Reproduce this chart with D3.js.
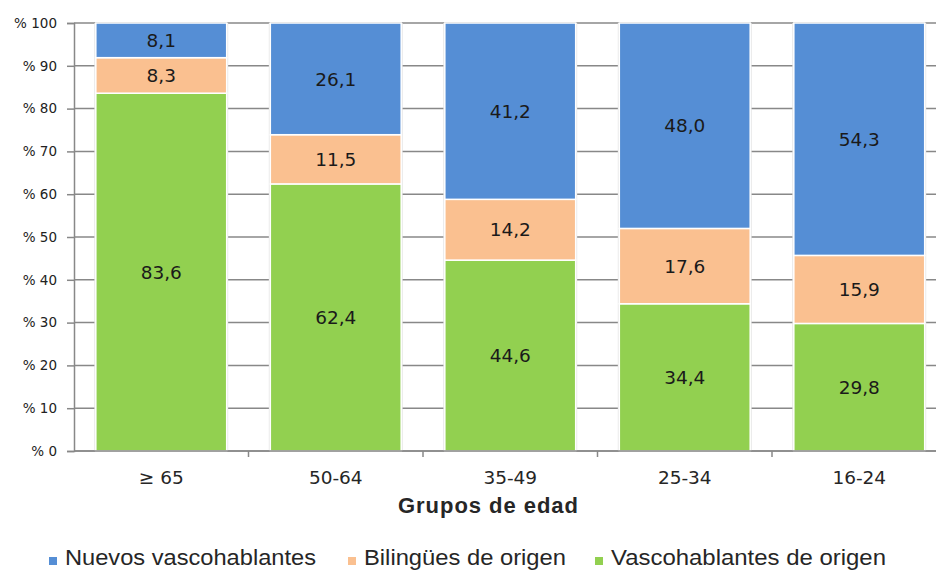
<!DOCTYPE html>
<html>
<head>
<meta charset="utf-8">
<script src="https://cdn.jsdelivr.net/npm/d3@7"></script>
<style>
  body { margin: 0; background: #fff; }
  svg { display: block; overflow: hidden; }
</style>
</head>
<body>
<svg id="chart" width="936" height="570"></svg>
<script>
// Age groups and shares (%) of each language profile
var groups = ["\u2265 65", "50-64", "35-49", "25-34", "16-24"];
var vascohablantes = [83.6, 62.4, 44.6, 34.4, 29.8];
var bilingues = [8.3, 11.5, 14.2, 17.6, 15.9];
var nuevos = [8.1, 26.1, 41.2, 48.0, 54.3];
var yTicks = [0, 10, 20, 30, 40, 50, 60, 70, 80, 90, 100];

var seriesNames = ["Vascohablantes de origen", "Bilingües de origen", "Nuevos vascohablantes"];
var seriesColors = ["#92d050", "#fac090", "#558ed5"];

var rows = groups.map(function(g, i) {
    return { group: g, v: vascohablantes[i], b: bilingues[i], n: nuevos[i] };
});

var svg = d3.select("#chart");

// plot area runs a bit past the right edge, like the original
var x = d3.scaleBand()
    .domain(groups)
    .range([74, 946.5])
    .paddingInner(0.25)
    .paddingOuter(0.125);

var y = d3.scaleLinear()
    .domain([0, 100])
    .range([451, 23]);

// horizontal gridlines
svg.append("g")
    .selectAll("line")
    .data(yTicks)
    .join("line")
    .attr("x1", 74)
    .attr("x2", 946)
    .attr("y1", function(d) { return y(d); })
    .attr("y2", function(d) { return y(d); })
    .attr("stroke", "#888")
    .attr("stroke-width", 1.5);

// y axis
var yAxis = svg.append("g")
    .attr("transform", "translate(74,0)")
    .call(d3.axisLeft(y).tickValues(yTicks).tickSize(7).tickPadding(10)
        .tickFormat(function(d) { return "% " + d; }));
yAxis.select(".domain").attr("stroke", "#888").attr("stroke-width", 1.5);
yAxis.selectAll(".tick line").attr("stroke", "#888").attr("stroke-width", 1.5);
yAxis.selectAll(".tick text")
    .attr("font-family", "DejaVu Sans, sans-serif")
    .attr("font-size", 13.5)
    .attr("fill", "#222");

// stacked bars
var stack = d3.stack().keys(["v", "b", "n"]);
var layers = stack(rows);

// faint shadow round each column
svg.append("g")
    .selectAll("rect")
    .data(rows)
    .join("rect")
    .attr("x", function(d) { return x(d.group) - 1.5; })
    .attr("width", x.bandwidth() + 3)
    .attr("y", y(100))
    .attr("height", y(0) - y(100))
    .attr("fill", "#e4e4e4");

var layerG = svg.append("g")
    .selectAll("g")
    .data(layers)
    .join("g")
    .attr("fill", function(d, i) { return seriesColors[i]; });

layerG.selectAll("rect")
    .data(function(d) { return d; })
    .join("rect")
    .attr("x", function(d) { return x(d.data.group); })
    .attr("width", x.bandwidth())
    .attr("y", function(d) { return y(d[1]); })
    .attr("height", function(d) { return y(d[0]) - y(d[1]); })
    .attr("stroke", "#fff")
    .attr("stroke-width", 1.5);

// value labels
layerG.selectAll("text")
    .data(function(d) { return d; })
    .join("text")
    .attr("x", function(d) { return x(d.data.group) + x.bandwidth() / 2; })
    .attr("y", function(d) { return y((d[0] + d[1]) / 2); })
    .attr("dy", "0.36em")
    .attr("text-anchor", "middle")
    .attr("font-family", "DejaVu Sans, sans-serif")
    .attr("font-size", 18.5)
    .attr("fill", "#1a1a1a")
    .text(function(d) { return d3.format(".1f")(d[1] - d[0]).replace(".", ","); });

// x axis line and ticks at group boundaries
svg.append("line")
    .attr("x1", 74).attr("x2", 946)
    .attr("y1", y(0)).attr("y2", y(0))
    .attr("stroke", "#888").attr("stroke-width", 1.5);

var bounds = groups.map(function(g) { return x(g) - x.step() * x.paddingInner() / 2 + x.step(); });
svg.append("g")
    .selectAll("line")
    .data(bounds)
    .join("line")
    .attr("x1", function(d) { return d; })
    .attr("x2", function(d) { return d; })
    .attr("y1", y(0))
    .attr("y2", y(0) + 6)
    .attr("stroke", "#888")
    .attr("stroke-width", 1.5);

var xAxis = svg.append("g")
    .attr("transform", "translate(0," + y(0) + ")")
    .call(d3.axisBottom(x).tickSize(0).tickPadding(20));
xAxis.select(".domain").remove();
xAxis.selectAll(".tick text")
    .attr("font-family", "DejaVu Sans, sans-serif")
    .attr("font-size", 18.5)
    .attr("fill", "#262626");

// axis title
svg.append("text")
    .attr("x", 488)
    .attr("y", 513)
    .attr("text-anchor", "middle")
    .attr("font-family", "Liberation Sans, Arial, sans-serif")
    .attr("font-weight", "bold")
    .attr("font-size", 22)
    .attr("fill", "#262626")
    .attr("textLength", 180)
    .attr("lengthAdjust", "spacing")
    .text("Grupos de edad");

// legend
var legendItems = [
    { name: seriesNames[2], color: seriesColors[2], x: 49, w: 251 },
    { name: seriesNames[1], color: seriesColors[1], x: 348, w: 202 },
    { name: seriesNames[0], color: seriesColors[0], x: 595, w: 275 }
];
var legend = svg.append("g")
    .selectAll("g")
    .data(legendItems)
    .join("g")
    .attr("transform", function(d) { return "translate(" + d.x + ",0)"; });
legend.append("rect")
    .attr("x", 0).attr("y", 557)
    .attr("width", 8).attr("height", 8)
    .attr("fill", function(d) { return d.color; });
legend.append("text")
    .attr("x", 16)
    .attr("y", 565)
    .attr("font-family", "Liberation Sans, Arial, sans-serif")
    .attr("font-size", 22)
    .attr("fill", "#262626")
    .attr("textLength", function(d) { return d.w; })
    .attr("lengthAdjust", "spacingAndGlyphs")
    .text(function(d) { return d.name; });
</script>
</body>
</html>
